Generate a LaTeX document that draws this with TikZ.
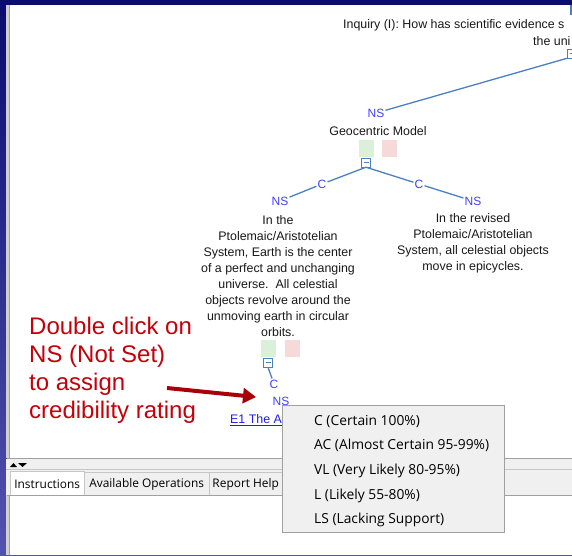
\documentclass[tikz,border=0pt]{standalone}
\usepackage{fontspec}
\setmainfont{Liberation Sans}
\newfontfamily\uifont{Open Sans}
\usepackage{tikz}
\usetikzlibrary{arrows.meta}
\definecolor{navy}{RGB}{10,12,110}
\definecolor{nsblue}{RGB}{64,64,255}
\definecolor{edgeblue}{RGB}{74,128,196}
\definecolor{okgreen}{RGB}{218,240,218}
\definecolor{badpink}{RGB}{246,218,218}
\definecolor{hintred}{RGB}{196,0,10}
\definecolor{linkblue}{RGB}{32,32,230}
\definecolor{panelgray}{RGB}{240,240,240}
\definecolor{framegray}{RGB}{160,160,160}
\tikzset{
  rate/.style={text=nsblue, font=\fontsize{12}{12}\selectfont, inner sep=1pt},
  claim/.style={align=center, font=\fontsize{12.4}{16}\selectfont, text=black!90, inner sep=0pt},
  fold/.style={draw=edgeblue, fill=white, minimum width=9pt, minimum height=9pt, inner sep=0pt, text=edgeblue},
  link/.style={draw=edgeblue, line width=1.3pt},
  vote/.style={minimum width=15pt, minimum height=17pt, inner sep=0pt},
  menuitem/.style={anchor=west, font=\uifont\fontsize{13.8}{14}\selectfont, inner sep=0pt},
  tabbox/.style={draw=framegray!60, fill=panelgray, minimum height=24pt, inner sep=0pt, anchor=north west, font=\uifont\fontsize{11.9}{12}\selectfont}
}

\begin{document}
\begin{tikzpicture}[x=1pt,y=-1pt]
  \useasboundingbox (0,0) rectangle (572,555);
  \clip (0,0) rectangle (572,555);
  \shade[top color=navy, bottom color=navy!80!blue!70] (0,0) rectangle (572,555);
  % panels
  \fill[white] (7,5) rectangle (572,458);
  \fill[framegray!50] (6,5) rectangle (10,458);
  \draw[framegray] (9,5) -- (9,458);
  \draw[framegray] (7,458.5) -- (572,458.5);
  \fill[panelgray] (6,459) rectangle (572,495);
  \draw[framegray!60] (6,469.5) -- (572,469.5);
  \fill[black] (10,467) -- (13.5,463) -- (17,467) -- cycle;
  \fill[black] (18,463) -- (27,463) -- (22.5,467) -- cycle;
  \node[tabbox, fill=white, minimum width=74pt, minimum height=25pt] (tabinst) at (10,471) {Instructions};
  \node[tabbox, minimum width=125pt] (tabops) at (84,472) {Available Operations};
  \node[tabbox, minimum width=73pt] (tabhelp) at (209,472) {Report Help};
  \fill[white] (7,496) rectangle (572,555);
  \fill[framegray!50] (6,495) rectangle (10,555);
  \draw[framegray] (9,495) -- (9,555);
  \draw[framegray] (7,495.5) -- (572,495.5);

  % tree
  \node[claim, anchor=west] (inq) at (343,25) {Inquiry (I): How has scientific evidence s};
  \node[claim, anchor=west] (inq2) at (533,41) {the uni};
  \coordinate (root) at (571,5);
  \coordinate (rootfoot) at (571,15);
  \draw[link] (root) -- (rootfoot);
  \node[fold] (f0) at (572,53.5) {\rule{5pt}{0.7pt}};
  \node[rate] (ns0) at (376,113) {NS};
  \draw[link] (f0.south west) -- (ns0);
  \node[claim] (geo) at (378,131) {Geocentric Model};
  \node[vote, fill=okgreen] (g0) at (366,148) {};
  \node[vote, fill=badpink] (r0) at (389.5,148) {};
  \node[fold] (f1) at (366,162.5) {\rule{5pt}{0.7pt}};
  \node[rate] (c1) at (322,184) {C};
  \node[rate] (ns1) at (280,201) {NS};
  \node[rate] (c2) at (419,184) {C};
  \node[rate] (ns2) at (473,201) {NS};
  \draw[link] (f1.south) -- (c1) -- (ns1);
  \draw[link] (f1.south) -- (c2) -- (ns2);
  \node[claim] (t1) at (278,276) {In the\\Ptolemaic/Aristotelian\\System, Earth is the center\\of a perfect and unchanging\\universe.\ \ All celestial\\objects revolve around the\\unmoving earth in circular\\orbits.};
  \node[claim] (t2) at (473,243) {In the revised\\Ptolemaic/Aristotelian\\System, all celestial objects\\move in epicycles.};
  \node[vote, fill=okgreen] (g1) at (268.5,348) {};
  \node[vote, fill=badpink] (r1) at (292.5,348) {};
  \node[fold] (f2) at (268,362.5) {\rule{5pt}{0.7pt}};
  \node[rate] (c3) at (274,384) {C};
  \node[rate] (ns3) at (281,401) {NS};
  \draw[link] (f2.south) -- (c3);
  \node[anchor=west, text=linkblue, font=\fontsize{12.4}{14}\selectfont, inner sep=0pt] (e1) at (230,420) {\underline{E1 The A}};

  % hint
  \node[anchor=north west, align=left, text=hintred, font=\fontsize{24}{28}\selectfont, inner sep=0pt] (hint) at (29,316.5) {Double click on\\NS (Not Set)\\to assign\\credibility rating};
  \coordinate (tail) at (167,388);
  \coordinate (tip) at (256,397);
  \draw[hintred!85!black, line width=4pt, -{Triangle[length=13pt,width=15pt]}] (tail) -- (tip);

  % menu
  \node[draw=framegray, fill=panelgray, minimum width=222pt, minimum height=127pt, anchor=north west, inner sep=0pt] (menu) at (281.5,404.5) {};
  \node[menuitem] (m1) at (314,421.5) {C (Certain 100\%)};
  \node[menuitem] (m2) at (314,445.5) {AC (Almost Certain 95-99\%)};
  \node[menuitem] (m3) at (314,470.5) {VL (Very Likely 80-95\%)};
  \node[menuitem] (m4) at (314,495.5) {L (Likely 55-80\%)};
  \node[menuitem] (m5) at (314,519.5) {LS (Lacking Support)};
\end{tikzpicture}
\end{document}
